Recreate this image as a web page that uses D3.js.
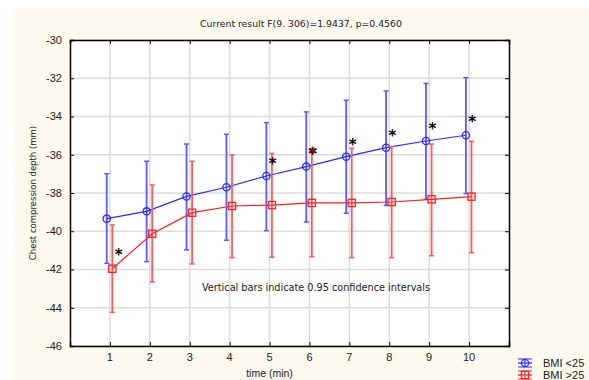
<!DOCTYPE html>
<html>
<head>
    <script src="https://d3js.org/d3.v7.min.js"></script>
    <style>
        body { margin: 0; background: #ffffff; }
    </style>
</head>
<body>
    <div id="chart"></div>

    <script>
        // data
        const times = [1, 2, 3, 4, 5, 6, 7, 8, 9, 10];
        const yTicks = [-30, -32, -34, -36, -38, -40, -42, -44, -46];

        const bmiLowMean  = [-39.34, -38.96, -38.18, -37.70, -37.11, -36.62, -36.10, -35.63, -35.28, -34.98];
        const bmiLowUpper = [-36.99, -36.34, -35.44, -34.93, -34.32, -33.76, -33.15, -32.67, -32.27, -31.97];
        const bmiLowLower = [-41.68, -41.59, -40.98, -40.47, -39.97, -39.52, -39.06, -38.65, -38.33, -38.03];

        const bmiHighMean  = [-41.96, -40.13, -39.03, -38.68, -38.63, -38.52, -38.52, -38.47, -38.33, -38.19];
        const bmiHighUpper = [-39.67, -37.58, -36.34, -36.01, -35.93, -35.79, -35.66, -35.58, -35.44, -35.30];
        const bmiHighLower = [-44.24, -42.65, -41.71, -41.38, -41.36, -41.33, -41.38, -41.38, -41.28, -41.12];

        // significance stars (time, value, colour)
        const starTimes  = [1.22, 5.08, 6.08, 7.08, 8.08, 9.08, 10.08];
        const starValues = [-41.14, -36.38, -35.86, -35.39, -34.92, -34.55, -34.18];
        const starFills  = ["#000", "#000", "#e00000", "#000", "#000", "#000", "#000"];

        const W = 589, H = 380;

        const svg = d3.select("#chart")
            .append("svg")
            .attr("width", W)
            .attr("height", H);

        // cream panel
        svg.append("rect")
            .attr("x", 14).attr("y", 9)
            .attr("width", W - 14).attr("height", H - 9)
            .attr("fill", "#fdf9ee");

        const x = d3.scaleLinear().domain([0, 11]).range([70, 509]);
        const y = d3.scaleLinear().domain([-46, -30]).range([346, 40]);

        // plot area
        svg.append("rect")
            .attr("x", x(0)).attr("y", y(-30))
            .attr("width", x(11) - x(0)).attr("height", y(-46) - y(-30))
            .attr("fill", "#ffffff");

        // grid
        svg.append("g").selectAll("line").data(times).enter()
            .append("line")
            .attr("x1", d => x(d)).attr("x2", d => x(d))
            .attr("y1", y(-30)).attr("y2", y(-46))
            .attr("stroke", "#dcdcdc").attr("stroke-width", 1.5);

        svg.append("g").selectAll("line").data(yTicks).enter()
            .append("line")
            .attr("x1", x(0)).attr("x2", x(11))
            .attr("y1", d => y(d)).attr("y2", d => y(d))
            .attr("stroke", "#dcdcdc").attr("stroke-width", 1.5);

        // axes, ticks drawn inward on all four sides
        const axisFont = "'Liberation Sans', Arial, sans-serif";

        const gLeft = svg.append("g")
            .attr("transform", `translate(${x(0)},0)`)
            .call(d3.axisRight(y).tickValues(yTicks).tickSize(4).tickFormat(""));
        const gRight = svg.append("g")
            .attr("transform", `translate(${x(11)},0)`)
            .call(d3.axisLeft(y).tickValues(yTicks).tickSize(4).tickFormat(""));
        const gTop = svg.append("g")
            .attr("transform", `translate(0,${y(-30)})`)
            .call(d3.axisBottom(x).tickValues(times).tickSize(4).tickFormat(""));
        const gBottom = svg.append("g")
            .attr("transform", `translate(0,${y(-46)})`)
            .call(d3.axisTop(x).tickValues(times).tickSize(4).tickFormat(""));

        [gLeft, gRight, gTop, gBottom].forEach(g => {
            g.select(".domain").attr("stroke", "#000").attr("stroke-width", 1.5);
            g.selectAll(".tick line").attr("stroke", "#000");
        });

        // tick labels
        svg.append("g").selectAll("text").data(yTicks).enter()
            .append("text")
            .attr("x", x(0) - 8)
            .attr("y", d => y(d))
            .attr("dy", "0.35em")
            .attr("text-anchor", "end")
            .style("font-family", axisFont)
            .style("font-size", "11px")
            .attr("fill", "#222")
            .text(d => d);

        svg.append("g").selectAll("text").data(times).enter()
            .append("text")
            .attr("x", d => x(d))
            .attr("y", y(-46) + 15)
            .attr("text-anchor", "middle")
            .style("font-family", axisFont)
            .style("font-size", "11px")
            .attr("fill", "#222")
            .text(d => d);

        // axis titles
        svg.append("text")
            .attr("x", x(5) + 0)
            .attr("y", 377)
            .attr("text-anchor", "middle")
            .style("font-family", axisFont)
            .style("font-size", "10.5px")
            .attr("fill", "#222")
            .text("time (min)");

        svg.append("text")
            .attr("transform", `translate(36,${y(-38)}) rotate(-90)`)
            .attr("text-anchor", "middle")
            .style("font-family", "'DejaVu Sans', sans-serif")
            .style("font-size", "8.5px")
            .attr("fill", "#222")
            .text("Chest compression depth (mm)");

        // title
        svg.append("text")
            .attr("x", 301)
            .attr("y", 27)
            .attr("text-anchor", "middle")
            .style("font-family", "'DejaVu Sans', sans-serif")
            .style("font-size", "9.3px")
            .attr("fill", "#222")
            .text("Current result F(9. 306)=1.9437, p=0.4560");

        // note
        svg.append("text")
            .attr("x", 202)
            .attr("y", 291)
            .style("font-family", "'DejaVu Sans', sans-serif")
            .style("font-size", "9.7px")
            .attr("fill", "#222")
            .text("Vertical bars indicate 0.95 confidence intervals");

        // series
        const series = [
            { name: "BMI <25", mean: bmiLowMean, upper: bmiLowUpper, lower: bmiLowLower,
              line: "#2b2bff", bar: "#5a5aff", shift: -0.08, shape: "circle" },
            { name: "BMI >25", mean: bmiHighMean, upper: bmiHighUpper, lower: bmiHighLower,
              line: "#ff2020", bar: "#ff5a5a", shift: 0.06, shape: "square" }
        ];

        function drawMarker(g, shape, cx, cy, color) {
            if (shape === "circle") {
                g.append("circle")
                    .attr("cx", cx).attr("cy", cy).attr("r", 3.6)
                    .attr("fill", "none").attr("stroke", color).attr("stroke-width", 1.3);
            } else {
                g.append("rect")
                    .attr("x", cx - 3.6).attr("y", cy - 3.6)
                    .attr("width", 7.2).attr("height", 7.2)
                    .attr("fill", "none").attr("stroke", color).attr("stroke-width", 1.3);
            }
        }

        series.forEach(s => {
            const g = svg.append("g");
            const px = i => x(times[i] + s.shift);

            // error bars
            times.forEach((t, i) => {
                g.append("line")
                    .attr("x1", px(i)).attr("x2", px(i))
                    .attr("y1", y(s.upper[i])).attr("y2", y(s.lower[i]))
                    .attr("stroke", s.bar).attr("stroke-width", 1.8);
                [s.upper[i], s.lower[i]].forEach(v => {
                    g.append("line")
                        .attr("x1", px(i) - 2.5).attr("x2", px(i) + 2.5)
                        .attr("y1", y(v)).attr("y2", y(v))
                        .attr("stroke", s.bar).attr("stroke-width", 1.5);
                });
            });

            // mean line
            g.append("path")
                .datum(s.mean)
                .attr("d", d3.line().x((d, i) => px(i)).y(d => y(d)))
                .attr("fill", "none")
                .attr("stroke", s.line)
                .attr("stroke-width", 1.2);

            s.mean.forEach((v, i) => drawMarker(g, s.shape, px(i), y(v), s.line));
        });

        // stars
        svg.append("g").selectAll("text").data(starTimes).enter()
            .append("text")
            .attr("x", d => x(d))
            .attr("y", (d, i) => y(starValues[i]) + 7)
            .attr("text-anchor", "middle")
            .style("font-family", "'DejaVu Sans', sans-serif")
            .style("font-size", "15px")
            .style("font-weight", "bold")
            .attr("fill", (d, i) => starFills[i])
            .attr("stroke", "#000")
            .attr("stroke-width", (d, i) => starFills[i] === "#000" ? 0 : 0.6)
            .text("*");

        // legend
        const legend = svg.append("g");
        series.forEach((s, i) => {
            const ly = 363 + i * 12;
            const lx = 525;
            [-4, 0, 4].forEach(o => {
                legend.append("line")
                    .attr("x1", lx - 7).attr("x2", lx + 7)
                    .attr("y1", ly + o).attr("y2", ly + o)
                    .attr("stroke", o === 0 ? s.line : s.bar)
                    .attr("stroke-width", 1.3);
            });
            legend.append("line")
                .attr("x1", lx).attr("x2", lx)
                .attr("y1", ly - 4).attr("y2", ly + 4)
                .attr("stroke", s.bar).attr("stroke-width", 1.5);
            drawMarker(legend, s.shape, lx, ly, s.line);
            legend.append("text")
                .attr("x", 543)
                .attr("y", ly)
                .attr("dy", "0.35em")
                .style("font-family", axisFont)
                .style("font-size", "11px")
                .attr("fill", "#222")
                .text(s.name);
        });
    </script>
</body>
</html>
